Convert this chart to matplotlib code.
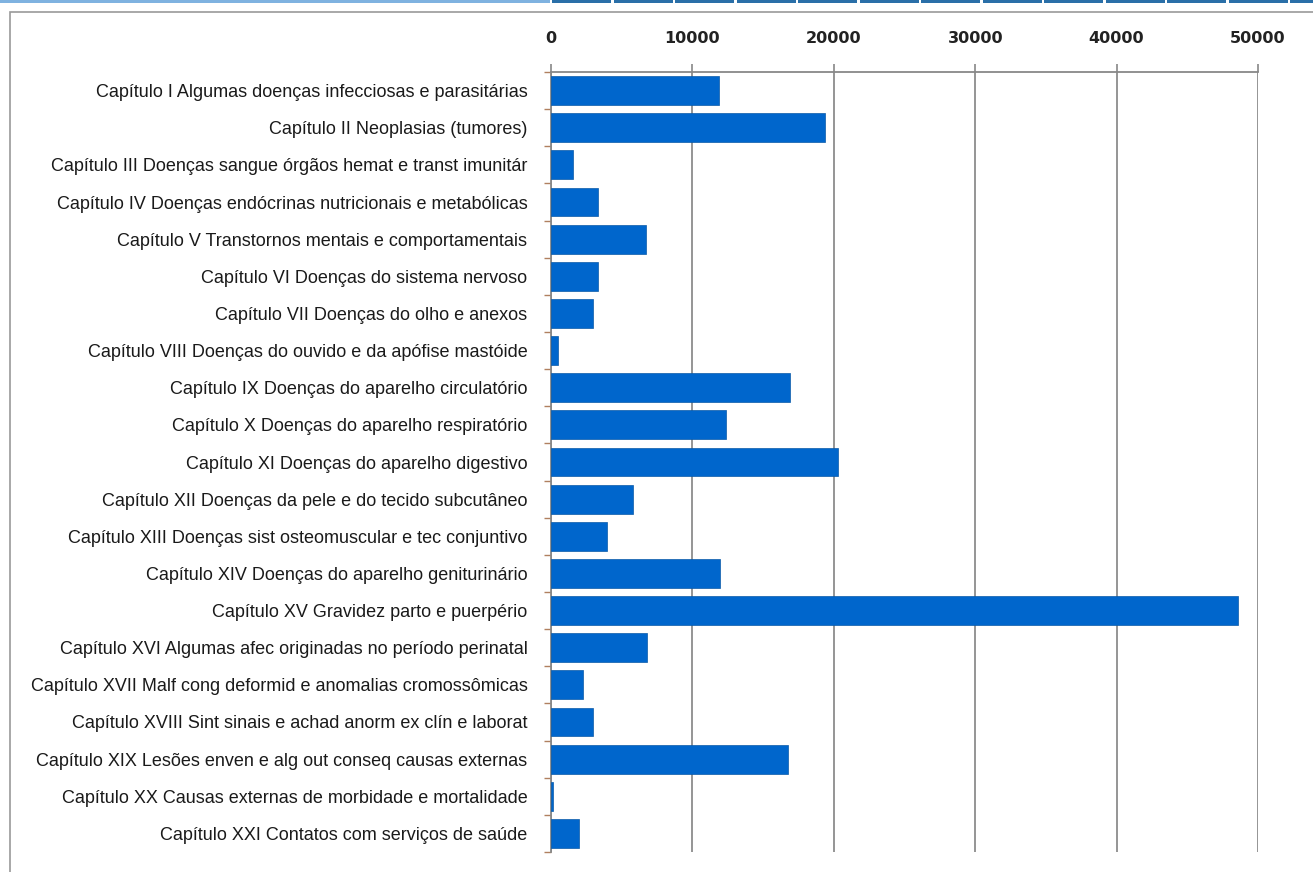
import matplotlib
matplotlib.use("Agg")
import matplotlib.pyplot as plt
from matplotlib.patches import Rectangle
import numpy as np

categories = [
    "Capítulo I Algumas doenças infecciosas e parasitárias",
    "Capítulo II Neoplasias (tumores)",
    "Capítulo III Doenças sangue órgãos hemat e transt imunitár",
    "Capítulo IV Doenças endócrinas nutricionais e metabólicas",
    "Capítulo V Transtornos mentais e comportamentais",
    "Capítulo VI Doenças do sistema nervoso",
    "Capítulo VII Doenças do olho e anexos",
    "Capítulo VIII Doenças do ouvido e da apófise mastóide",
    "Capítulo IX Doenças do aparelho circulatório",
    "Capítulo X Doenças do aparelho respiratório",
    "Capítulo XI Doenças do aparelho digestivo",
    "Capítulo XII Doenças da pele e do tecido subcutâneo",
    "Capítulo XIII Doenças sist osteomuscular e tec conjuntivo",
    "Capítulo XIV Doenças do aparelho geniturinário",
    "Capítulo XV Gravidez parto e puerpério",
    "Capítulo XVI Algumas afec originadas no período perinatal",
    "Capítulo XVII Malf cong deformid e anomalias cromossômicas",
    "Capítulo XVIII Sint sinais e achad anorm ex clín e laborat",
    "Capítulo XIX Lesões enven e alg out conseq causas externas",
    "Capítulo XX Causas externas de morbidade e mortalidade",
    "Capítulo XXI Contatos com serviços de saúde",
]
values = [11900, 19400, 1530, 3300, 6720, 3300, 2950, 480, 16900, 12400,
          20300, 5800, 3960, 11950, 48600, 6790, 2240, 2950, 16760, 120, 1980]
x_ticks = [0, 10000, 20000, 30000, 40000, 50000]
x_tick_labels = ["0", "10000", "20000", "30000", "40000", "50000"]

W, H = 1313, 872
fig = plt.figure(figsize=(W / 100, H / 100), dpi=100)
fig.patch.set_facecolor("white")

# outer frame and top strip
fig.patches.append(Rectangle((10 / W, -0.05), 1.1, 1 - 12 / H + 0.05, transform=fig.transFigure,
                             fill=False, edgecolor="#9a9a9a", linewidth=1.2))
fig.patches.append(Rectangle((0, 1 - 3 / H), 550 / W, 3 / H, transform=fig.transFigure,
                             facecolor="#7fb2e0", edgecolor="none"))
for i in range(13):
    x0 = 552 + i * 61.5
    fig.patches.append(Rectangle((x0 / W, 1 - 3 / H), 59 / W, 3 / H, transform=fig.transFigure,
                                 facecolor="#2a6fa8", edgecolor="none"))

ax = fig.add_axes([551 / W, 1 - 852 / H, (1258 - 551) / W, (852 - 72) / H])
n = len(categories)
y = np.arange(n)
ax.barh(y, values, height=0.78, color="#0066cc", edgecolor="#0a5aa8", linewidth=0.5, zorder=3)

ax.set_xlim(0, 50000)
ax.set_ylim(n - 0.5, -0.5)

ax.xaxis.tick_top()
ax.set_xticks(x_ticks)
ax.set_xticklabels(x_tick_labels, fontsize=11.5, fontweight="bold", color="#222222",
                   family="DejaVu Sans")
ax.tick_params(axis="x", which="major", length=6, width=1.2, color="#888888", pad=13,
               direction="out")

ax.set_yticks(y)
ax.set_yticklabels(categories, fontsize=13, color="#1a1a1a", family="Liberation Sans")
ax.tick_params(axis="y", which="major", length=0, pad=17)
ax.set_yticks(np.arange(n + 1) - 0.5, minor=True)
ax.tick_params(axis="y", which="minor", length=5, width=1, color="#b08060")

ax.grid(axis="x", color="#8c8c8c", linewidth=1.3, zorder=0)
for side in ["right", "bottom"]:
    ax.spines[side].set_visible(False)
ax.spines["top"].set_color("#888888")
ax.spines["top"].set_linewidth(1.3)
ax.spines["left"].set_color("#888888")
ax.spines["left"].set_linewidth(1.3)

fig.savefig("out.png", dpi=100, facecolor="white")
